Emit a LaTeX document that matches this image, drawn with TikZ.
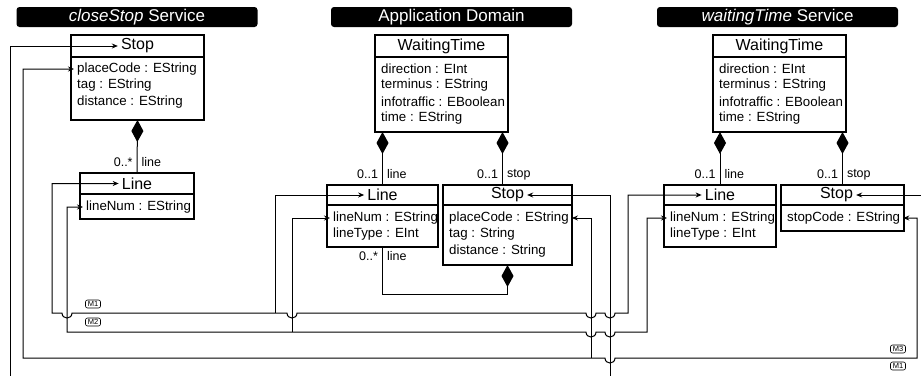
\documentclass[tikz,border=0pt]{standalone}
\usepackage{fontspec}
\setmainfont{Liberation Sans}
\usetikzlibrary{arrows.meta,positioning}
\newcommand{\linehop}[2]{-- ({#1-5},#2) .. controls +(0,6.7) and +(0,6.7) .. ({#1+5},#2)}

\begin{document}
\begin{tikzpicture}[x=1pt,y=-1pt,
		>={Stealth[length=6pt,width=5pt]},
		banner/.style={fill=black,rounded corners=3pt,text=white,minimum width=241pt,minimum height=20pt,inner sep=0pt,font=\fontsize{17}{20}\selectfont},
		classhead/.style={draw,line width=1.5pt,outer sep=0pt,anchor=north west},
		classbody/.style={draw,line width=1.5pt,outer sep=0pt},
		cname/.style={inner xsep=3pt,inner ysep=1pt,font=\fontsize{16}{18}\selectfont},
		attrtext/.style={anchor=west,inner xsep=3pt,inner ysep=1pt,font=\fontsize{13.3}{16}\selectfont},
		multlabel/.style={inner xsep=4pt,inner ysep=0pt,font=\fontsize{12.5}{14}\selectfont},
		compose/.style={line width=1pt,-{Diamond[length=22pt,width=12pt]}},
		mapline/.style={line width=1pt},
		mtag/.style={draw,fill=white,line width=0.6pt,rounded corners=2pt,inner sep=0.8pt,minimum width=15pt,minimum height=8pt,font=\fontsize{7.5}{7.5}\selectfont}]
	\useasboundingbox (0,0) rectangle (921,375);
	\clip (0,0) rectangle (921,375);

	\node[banner] (csTitle) at (137,17) {\textit{closeStop} Service};
	\node[banner] (adTitle) at (451.5,17) {Application Domain};
	\node[banner] (wtTitle) at (777.5,17) {\textit{waitingTime} Service};

	\node[classhead,minimum width=133pt,minimum height=22pt] (csStop) at (71,35) {};
	\node[cname] (csStopN) at (csStop.center) {Stop};
	\node[classbody,minimum width=133pt,minimum height=63pt,below=0pt of csStop] (csStopA) {};
	\node[attrtext] (csPlace) at (74,69) {placeCode : EString};
	\node[attrtext] (csTag) at (74,85.5) {tag : EString};
	\node[attrtext] (csDist) at (74,102) {distance : EString};

	\node[classhead,minimum width=114pt,minimum height=21pt] (csLine) at (80,173) {};
	\node[cname] (csLineN) at (csLine.center) {Line};
	\node[classbody,minimum width=114pt,minimum height=25pt,below=0pt of csLine] (csLineA) {};
	\node[attrtext] (csLineNum) at (83,207) {lineNum : EString};

	\node[classhead,minimum width=133pt,minimum height=22pt] (adWT) at (375,35) {};
	\node[cname] (adWTN) at (adWT.center) {WaitingTime};
	\node[classbody,minimum width=133pt,minimum height=75pt,below=0pt of adWT] (adWTA) {};
	\node[attrtext] (adDir) at (378,69) {direction : EInt};
	\node[attrtext] (adTerm) at (378,85.5) {terminus : EString};
	\node[attrtext] (adInfo) at (378,102) {infotraffic : EBoolean};
	\node[attrtext] (adTime) at (378,118.5) {time : EString};

	\node[classhead,minimum width=111pt,minimum height=20pt] (adLine) at (327,185) {};
	\node[cname] (adLineN) at (adLine.center) {Line};
	\node[classbody,minimum width=111pt,minimum height=42pt,below=0pt of adLine] (adLineA) {};
	\node[attrtext] (adLineNum) at (330,218) {lineNum : EString};
	\node[attrtext] (adLineType) at (330,234.5) {lineType : EInt};

	\node[classhead,minimum width=129pt,minimum height=20pt] (adStop) at (443,185) {};
	\node[cname] (adStopN) at (adStop.center) {Stop};
	\node[classbody,minimum width=129pt,minimum height=60pt,below=0pt of adStop] (adStopA) {};
	\node[attrtext] (adPlace) at (446,218) {placeCode : EString};
	\node[attrtext] (adTag) at (446,234.5) {tag : String};
	\node[attrtext] (adDist) at (446,251) {distance : String};

	\node[classhead,minimum width=133pt,minimum height=22pt] (wtWT) at (713,35) {};
	\node[cname] (wtWTN) at (wtWT.center) {WaitingTime};
	\node[classbody,minimum width=133pt,minimum height=75pt,below=0pt of wtWT] (wtWTA) {};
	\node[attrtext] (wtDir) at (716,69) {direction : EInt};
	\node[attrtext] (wtTerm) at (716,85.5) {terminus : EString};
	\node[attrtext] (wtInfo) at (716,102) {infotraffic : EBoolean};
	\node[attrtext] (wtTime) at (716,118.5) {time : EString};

	\node[classhead,minimum width=112pt,minimum height=20pt] (wtLine) at (664,185) {};
	\node[cname] (wtLineN) at (wtLine.center) {Line};
	\node[classbody,minimum width=112pt,minimum height=42pt,below=0pt of wtLine] (wtLineA) {};
	\node[attrtext] (wtLineNum) at (667,218) {lineNum : EString};
	\node[attrtext] (wtLineType) at (667,234.5) {lineType : EInt};

	\node[classhead,minimum width=123pt,minimum height=20pt] (wtStop) at (781,185) {};
	\node[cname] (wtStopN) at ([xshift=-6pt]wtStop.center) {Stop};
	\node[classbody,minimum width=123pt,minimum height=26pt,below=0pt of wtStop] (wtStopA) {};
	\node[attrtext] (wtStopCode) at (784,218) {stopCode : EString};

	\draw[compose] (csLine.north) -- node[multlabel,pos=0.2,left]{0..*} node[multlabel,pos=0.2,right]{line} (csStopA.south);
	\draw[compose] (adLine.north) -- node[multlabel,pos=0.2,left]{0..1} node[multlabel,pos=0.2,right]{line} (adLine.north |- adWTA.south);
	\coordinate (adStopTop) at ([xshift=-5pt]adStop.north);
	\draw[compose] (adStopTop) -- node[multlabel,pos=0.2,left]{0..1} node[multlabel,pos=0.2,right]{stop} (adStopTop |- adWTA.south);
	\draw[compose] (adLineA.south) -- node[multlabel,pos=0.2,left]{0..*} node[multlabel,pos=0.2,right]{line} ++(0,47) -| (adStopA.south);
	\draw[compose] (wtLine.north) -- node[multlabel,pos=0.2,left]{0..1} node[multlabel,pos=0.2,right]{line} (wtLine.north |- wtWTA.south);
	\draw[compose] (wtStop.north) -- node[multlabel,pos=0.2,left]{0..1} node[multlabel,pos=0.2,right]{stop} (wtStop.north |- wtWTA.south);

	\coordinate (m1Fork) at (275,313);
	\coordinate (m2Fork) at (292,332);
	\coordinate (m3Fork) at (591,358);
	\coordinate (m4Fork) at (610,390);

	\draw[mapline,<->] (csLineN.west) -| (52,313) \linehop{67}{313} \linehop{292}{313} \linehop{591}{313} \linehop{610}{313} -- (628,313) |- (wtLineN.west);
	\draw[mapline,->] (m1Fork) |- (adLineN.west);
	\draw[mapline,<->] (csLineNum.west) -| (67,332) \linehop{591}{332} \linehop{610}{332} -- (647,332) |- (wtLineNum.west);
	\draw[mapline,->] (m2Fork) |- (adLineNum.west);
	\draw[mapline,<->] (csPlace.west) -| (23,358) \linehop{610}{358} -- (917,358) |- (wtStopCode.east);
	\draw[mapline,->] (m3Fork) |- (adPlace.east);
	\draw[mapline,<->] (csStopN.west) -| (10,390) -| (930,195) -- (wtStopN.east);
	\draw[mapline,->] (m4Fork) |- (adStopN.east);

	\node[mtag] (tagM1a) at (93,304) {M1};
	\node[mtag] (tagM2) at (93,322) {M2};
	\node[mtag] (tagM3) at (898,349) {M3};
	\node[mtag] (tagM1b) at (898,366) {M1};
\end{tikzpicture}
\end{document}
